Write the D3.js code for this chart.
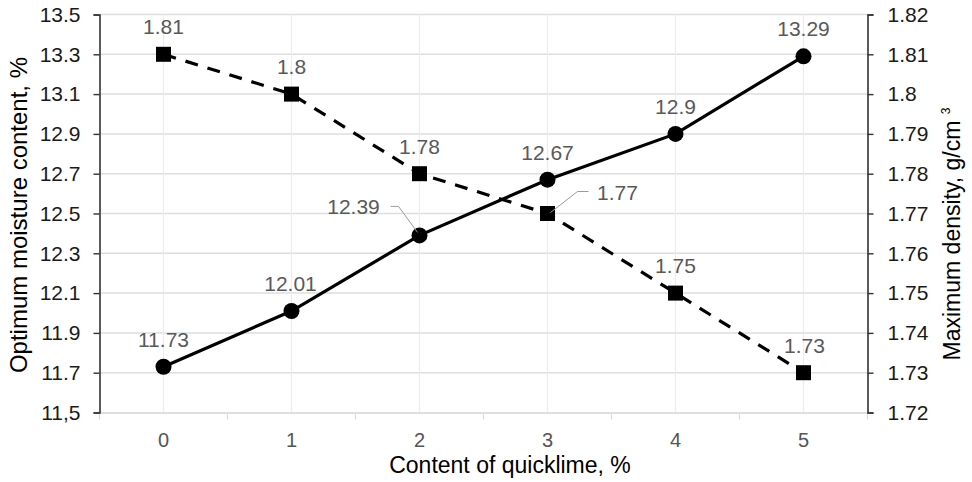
<!DOCTYPE html>
<html><head><meta charset="utf-8">
<script src="https://cdn.jsdelivr.net/npm/d3@7"></script>
<style>body{margin:0;background:#fff}svg{display:block;font-family:"Liberation Sans",Arial,sans-serif}</style>
</head><body><svg id="c" width="972" height="482"></svg>
<script>
const categories = ["0","1","2","3","4","5"];
const moisture = [11.73, 12.01, 12.39, 12.67, 12.9, 13.29];
const density = [1.81, 1.8, 1.78, 1.77, 1.75, 1.73];
const leftTicks = [11.5, 11.7, 11.9, 12.1, 12.3, 12.5, 12.7, 12.9, 13.1, 13.3, 13.5];
const leftTickLabels = ["11,5","11.7","11.9","12.1","12.3","12.5","12.7","12.9","13.1","13.3","13.5"];
const rightTicks = [1.72,1.73,1.74,1.75,1.76,1.77,1.78,1.79,1.8,1.81,1.82];
const rightTickLabels = ["1.72","1.73","1.74","1.75","1.76","1.77","1.78","1.79","1.8","1.81","1.82"];
const moistureLabels = ["11.73","12.01","12.39","12.67","12.9","13.29"];
const densityLabels = ["1.81","1.8","1.78","1.77","1.75","1.73"];

const svg = d3.select("#c");
const L = 99.5, R = 867.5, T = 14.5, B = 412.5;
const x = d3.scaleBand().domain(categories).range([L, R]);
const yL = d3.scaleLinear().domain([11.5, 13.5]).range([B, T]);
const yR = d3.scaleLinear().domain([1.72, 1.82]).range([B, T]);
const cx = c => x(c) + x.bandwidth() / 2;

// grid
svg.append("g").selectAll("line").data(leftTicks.slice(1)).join("line")
  .attr("x1", L).attr("x2", R).attr("y1", d => yL(d)).attr("y2", d => yL(d))
  .attr("stroke", "#dedede").attr("stroke-width", 1.5);
svg.append("g").selectAll("line").data(categories).join("line")
  .attr("x1", d => cx(d)).attr("x2", d => cx(d)).attr("y1", T).attr("y2", B)
  .attr("stroke", "#ececec").attr("stroke-width", 1.2);

// bottom axis
const xa = svg.append("g").attr("transform", `translate(0,${B})`)
  .call(d3.axisBottom(x).tickSize(0).tickPadding(20));
xa.select(".domain").attr("stroke", "#d4d4d4").attr("stroke-width", 1.5);
xa.selectAll("text").attr("font-size", 20).attr("fill", "#555").attr("font-family", "Liberation Sans, Arial, sans-serif");
// boundary ticks
svg.append("g").selectAll("line").data(d3.range(categories.length + 1)).join("line")
  .attr("x1", i => L + i * x.step()).attr("x2", i => L + i * x.step())
  .attr("y1", B).attr("y2", B + 7).attr("stroke", "#dcdcdc").attr("stroke-width", 1.2);

// left axis
const la = svg.append("g").attr("transform", `translate(${L},0)`)
  .call(d3.axisLeft(yL).tickValues(leftTicks).tickFormat((d, i) => leftTickLabels[i]).tickSize(6).tickPadding(13));
la.select(".domain").attr("stroke", "#333").attr("stroke-width", 1.6);
la.selectAll(".tick line").attr("stroke", "#333").attr("stroke-width", 1.4);
la.selectAll("text").attr("font-size", 21).attr("fill", "#1a1a1a").attr("font-family", "Liberation Sans, Arial, sans-serif");

// right axis
const ra = svg.append("g").attr("transform", `translate(${R},0)`)
  .call(d3.axisRight(yR).tickValues(rightTicks).tickFormat((d, i) => rightTickLabels[i]).tickSize(6).tickPadding(14));
ra.select(".domain").attr("stroke", "#333").attr("stroke-width", 1.6);
ra.selectAll(".tick line").attr("stroke", "#333").attr("stroke-width", 1.4);
ra.selectAll("text").attr("font-size", 21).attr("fill", "#1a1a1a").attr("font-family", "Liberation Sans, Arial, sans-serif");

// lines
const lineM = d3.line().x((d, i) => cx(categories[i])).y(d => yL(d));
const lineD = d3.line().x((d, i) => cx(categories[i])).y(d => yR(d));
svg.append("path").attr("d", lineD(density)).attr("fill", "none").attr("stroke", "#000")
  .attr("stroke-width", 3.2).attr("stroke-dasharray", "13,10");
svg.append("path").attr("d", lineM(moisture)).attr("fill", "none").attr("stroke", "#000")
  .attr("stroke-width", 3.2);

// markers
const sq = 15;
svg.append("g").selectAll("rect").data(density).join("rect")
  .attr("x", (d, i) => cx(categories[i]) - sq / 2).attr("y", d => yR(d) - sq / 2)
  .attr("width", sq).attr("height", sq).attr("fill", "#000");
svg.append("g").selectAll("circle").data(moisture).join("circle")
  .attr("cx", (d, i) => cx(categories[i])).attr("cy", d => yL(d)).attr("r", 8).attr("fill", "#000");

// data labels
const lblColor = "#595959";
function addLabels(vals, labels, yScale, special) {
  vals.forEach((v, i) => {
    const px = cx(categories[i]), py = yScale(v);
    const s = special[i];
    const tx = s ? px + s.dx : px, ty = s ? py + s.dy : py - 20;
    svg.append("text").attr("x", tx).attr("y", ty).attr("text-anchor", "middle")
      .attr("font-size", 21).attr("fill", lblColor).text(labels[i]);
    if (s && s.leader) {
      const pts = s.leader.map(p => [px + p[0], py + p[1]]);
      svg.append("path").attr("d", d3.line()(pts)).attr("fill", "none")
        .attr("stroke", "#9a9a9a").attr("stroke-width", 1);
    }
  });
}
addLabels(moisture, moistureLabels, yL, {2: {dx: -66, dy: -21, leader: [[-29, -29], [-21, -29], [-2, -3]]}, 1: {dx: -1, dy: -20}});
addLabels(density, densityLabels, yR, {3: {dx: 70, dy: -14, leader: [[41, -22], [30, -22], [3, -1]]}, 5: {dx: 1, dy: -20}});

// axis titles
svg.append("text").attr("transform", "translate(27,215) rotate(-90)").attr("text-anchor", "middle")
  .attr("font-size", 24).attr("fill", "#000").text("Optimum moisture content, %");
const rt = svg.append("text").attr("transform", "translate(960,234) rotate(-90)").attr("text-anchor", "middle")
  .attr("font-size", 23).attr("fill", "#000");
rt.append("tspan").text("Maximum density, g/cm ");
rt.append("tspan").attr("font-size", 12).attr("dy", -10).text("3");
svg.append("text").attr("x", 510).attr("y", 473).attr("text-anchor", "middle")
  .attr("font-size", 23).attr("fill", "#000").text("Content of quicklime, %");
</script></body></html>
